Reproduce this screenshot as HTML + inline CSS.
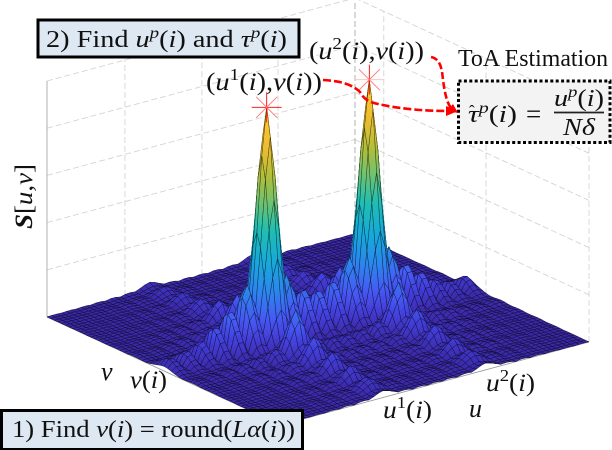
<!DOCTYPE html>
<html lang="en">
<head>
<meta charset="utf-8">
<title>ToA estimation surface</title>
<style>
  html, body { margin: 0; padding: 0; background: #fff; }
  svg { display: block; }
  text { font-family: "Liberation Serif", "DejaVu Serif", serif; fill: #111; }
  .m { font-style: italic; }
</style>
</head>
<body>
<svg id="chart" xmlns="http://www.w3.org/2000/svg" width="612" height="450" viewBox="0 0 612 450">
  <g id="walls" fill="none"></g>
  <g id="surface"></g>
  <g id="stars"></g>

  <text transform="translate(32,229) rotate(-90)" font-size="25" textLength="65" lengthAdjust="spacingAndGlyphs"><tspan font-weight="bold" font-style="italic">S</tspan><tspan>[</tspan><tspan class="m">u</tspan><tspan>,</tspan><tspan class="m">v</tspan><tspan>]</tspan></text>
  <text class="m" x="101" y="380" font-size="26">v</text>
  <text class="m" x="469" y="417" font-size="26">u</text>
  <text x="130" y="388" font-size="25" textLength="37" lengthAdjust="spacingAndGlyphs"><tspan class="m">v</tspan>(<tspan class="m">i</tspan>)</text>
  <text x="383" y="418" font-size="25" textLength="49" lengthAdjust="spacingAndGlyphs"><tspan class="m">u</tspan><tspan font-size="17" dy="-10">1</tspan><tspan dy="10">(</tspan><tspan class="m">i</tspan>)</text>
  <text x="486" y="391" font-size="25" textLength="49" lengthAdjust="spacingAndGlyphs"><tspan class="m">u</tspan><tspan font-size="17" dy="-10">2</tspan><tspan dy="10">(</tspan><tspan class="m">i</tspan>)</text>

  <text x="206" y="90" font-size="25" textLength="116" lengthAdjust="spacingAndGlyphs">(<tspan class="m">u</tspan><tspan font-size="17" dy="-10">1</tspan><tspan dy="10">(</tspan><tspan class="m">i</tspan>),<tspan class="m">v</tspan>(<tspan class="m">i</tspan>))</text>
  <text x="309" y="59" font-size="25" textLength="115" lengthAdjust="spacingAndGlyphs">(<tspan class="m">u</tspan><tspan font-size="17" dy="-10">2</tspan><tspan dy="10">(</tspan><tspan class="m">i</tspan>),<tspan class="m">v</tspan>(<tspan class="m">i</tspan>))</text>

  <g>
    <rect x="38" y="20" width="261" height="37" fill="#dee8f3" stroke="#000" stroke-width="3"></rect>
    <text x="46" y="47" font-size="24" textLength="241" lengthAdjust="spacingAndGlyphs">2) Find <tspan class="m">u</tspan><tspan class="m" font-size="16" dy="-9">p</tspan><tspan dy="9">(</tspan><tspan class="m">i</tspan>) and <tspan class="m">τ</tspan><tspan class="m" font-size="16" dy="-9">p</tspan><tspan dy="9">(</tspan><tspan class="m">i</tspan>)</text>
  </g>

  <g>
    <rect x="1.5" y="410.5" width="301" height="39" fill="#dee8f3" stroke="#000" stroke-width="3"></rect>
    <text x="12" y="437" font-size="24" textLength="283" lengthAdjust="spacingAndGlyphs">1) Find <tspan class="m">v</tspan>(<tspan class="m">i</tspan>) = round(<tspan class="m">Lα</tspan>(<tspan class="m">i</tspan>))</text>
  </g>

  <text x="458" y="66" font-size="24" textLength="150" lengthAdjust="spacingAndGlyphs">ToA Estimation</text>
  <g>
    <rect x="458.5" y="81" width="151.5" height="61.5" fill="#f3f3f3" stroke="#000" stroke-width="3" stroke-dasharray="3 2.4"></rect>
    <text x="468" y="122" font-size="24" textLength="49" lengthAdjust="spacingAndGlyphs"><tspan class="m">τ</tspan><tspan class="m" font-size="16" dy="-9">p</tspan><tspan dy="9">(</tspan><tspan class="m">i</tspan>)</text>
    <text x="469" y="117" font-size="17">ˆ</text>
    <text x="526" y="123" font-size="27">=</text>
    <text x="554" y="106" font-size="24" textLength="50" lengthAdjust="spacingAndGlyphs"><tspan class="m">u</tspan><tspan class="m" font-size="16" dy="-9">p</tspan><tspan dy="9">(</tspan><tspan class="m">i</tspan>)</text>
    <line x1="554" y1="112.5" x2="604" y2="112.5" stroke="#222" stroke-width="1.8"></line>
    <text class="m" x="563" y="135" font-size="24" textLength="32" lengthAdjust="spacingAndGlyphs">Nδ</text>
  </g>

  <g fill="none" stroke="#f00" stroke-width="2.6">
    <path stroke-dasharray="7 3" d="M431,57 C441,59 442,70 443,80 C445,94 447,104 452,109"></path>
    <path stroke-dasharray="8 3" d="M323,80 C340,81 352,84 360,92 C364,99 368,102 378,104 C400,109 425,111 450,111"></path>
    <polygon points="458,113 447,111 453,104" fill="#f00" stroke="none"></polygon>
    <polygon points="458,111 446,106 446,116" fill="#f00" stroke="none"></polygon>
  </g>
</svg>

<script>
// Relative response along the u axis, sample 0..63
const uProfile = [
  .02,.045,.04,.012,.05,.055,.012,.07,.08,.02,.12,.12,.03,.17,.17,.04,.22,.27,.2,.48,.8,
  1,.8,.48,.2,.27,.22,.05,.18,.18,.05,.16,.16,.05,.18,.18,.05,.22,.27,.2,.48,.8,
  1,.8,.48,.2,.27,.22,.04,.17,.17,.03,.12,.12,.02,.08,.07,.012,.055,.05,.012,.05,.055,.025
];
// Relative response along the v axis, sample 0..64
const vProfile = [
  .03,.02,.02,.04,.05,.05,.03,.02,.05,.07,.05,.03,.03,.07,.09,.07,.04,.04,.09,.12,.1,.05,.07,.16,.2,.16,.08,.06,.17,.38,.62,.88,
  1,
  .88,.62,.38,.17,.06,.07,.12,.15,.12,.05,.04,.08,.09,.07,.03,.03,.05,.06,.05,.02,.02,.04,.05,.04,.015,.02,.03,.04,.03,.015,.02,.03
];
// Axis gridline fractions
const zGridLevels = [0, 0.2, 0.4, 0.6, 0.8, 1];
const uGridLevels = [0, 0.253, 0.503, 0.75, 1];
const vGridLevels = [0, 0.44, 0.877, 1];
const peakThreshold = 0.9;

const SVG = 'http://www.w3.org/2000/svg';
const FRONT = { x: 281, y: 425 };
const U_VEC = { x: 308, y: -83 };
const V_VEC = { x: -234, y: -108 };
const Z_PX = 236;

function projectX(u, v) { return FRONT.x + u * U_VEC.x + v * V_VEC.x; }
function projectY(u, v, z) { return FRONT.y + u * U_VEC.y + v * V_VEC.y - z * Z_PX; }
function uAt(i) { return i / (uProfile.length - 1); }
function vAt(j) { return j / (vProfile.length - 1); }
function heightAt(i, j) { return uProfile[i] * vProfile[j]; }

const parula = [
  [0, 58, 40, 165], [0.07, 66, 60, 215], [0.14, 70, 90, 244], [0.25, 45, 135, 238],
  [0.37, 24, 170, 218], [0.5, 32, 190, 180], [0.62, 115, 195, 110], [0.72, 175, 190, 60],
  [0.84, 235, 190, 50], [0.93, 250, 195, 50], [1, 250, 225, 40]
];
function colorFor(t) {
  let k = 0;
  while (k < parula.length - 2 && t > parula[k + 1][0]) k++;
  const a = parula[k], b = parula[k + 1];
  const f = Math.min(1, Math.max(0, (t - a[0]) / (b[0] - a[0])));
  const c = [1, 2, 3].map(n => Math.round(a[n] + (b[n] - a[n]) * f));
  return 'rgb(' + c.join(',') + ')';
}

function drawLine(parent, x1, y1, x2, y2, color, dash, name) {
  const l = document.createElementNS(SVG, 'line');
  
  
  l.setAttribute('x1', x1); l.setAttribute('y1', y1);
  l.setAttribute('x2', x2); l.setAttribute('y2', y2);
  l.setAttribute('stroke', color);
  l.setAttribute('stroke-width', '0.9');
  if (dash) l.setAttribute('stroke-dasharray', dash);
  parent.appendChild(l);
}

// Walls
const walls = document.getElementById('walls');
zGridLevels.forEach(z => {
  if (z === 0) return;
  drawLine(walls, projectX(0, 1), projectY(0, 1, z), projectX(1, 1), projectY(1, 1, z), '#d4d4d4', '6 3', 'left-wall-gridline');
  drawLine(walls, projectX(1, 1), projectY(1, 1, z), projectX(1, 0), projectY(1, 0, z), '#d4d4d4', '6 3', 'right-wall-gridline');
});
uGridLevels.forEach(u => {
  if (u === 0) {
    drawLine(walls, projectX(u, 1), projectY(u, 1, 0), projectX(u, 1), projectY(u, 1, 1), '#a8a8a8', '', 'z-axis-line');
  } else {
    drawLine(walls, projectX(u, 1), projectY(u, 1, 0), projectX(u, 1), projectY(u, 1, 1), u === 1 ? '#ababab' : '#d4d4d4', '6 3', 'left-wall-vertical-gridline');
  }
});
vGridLevels.forEach(v => {
  if (v === 1) return;
  drawLine(walls, projectX(1, v), projectY(1, v, 0), projectX(1, v), projectY(1, v, 1), '#d4d4d4', '6 3', 'right-wall-vertical-gridline');
});
drawLine(walls, projectX(0, 0), projectY(0, 0, 0), projectX(1, 0), projectY(1, 0, 0), '#999', '', 'u-axis-line');
drawLine(walls, projectX(0, 0), projectY(0, 0, 0), projectX(0, 1), projectY(0, 1, 0), '#999', '', 'v-axis-line');

// Bilinear point on a mesh face at local (s, t)
function facePoint(i, j, s, t) {
  const z = (1 - s) * (1 - t) * heightAt(i, j) + s * (1 - t) * heightAt(i + 1, j)
          + s * t * heightAt(i + 1, j + 1) + (1 - s) * t * heightAt(i, j + 1);
  const u = uAt(i) + s * (uAt(i + 1) - uAt(i));
  const v = vAt(j) + t * (vAt(j + 1) - vAt(j));
  return { x: projectX(u, v), y: projectY(u, v, z), z: z };
}
function pointString(p) { return p.x.toFixed(1) + ',' + p.y.toFixed(1); }

// Surface: painter's order, back corner first; interpolated shading through sub-cells
const surface = document.getElementById('surface');
for (let i = uProfile.length - 2; i >= 0; i--) {
  for (let j = vProfile.length - 2; j >= 0; j--) {
    const zs = [heightAt(i, j), heightAt(i + 1, j), heightAt(i + 1, j + 1), heightAt(i, j + 1)];
    const range = Math.max(...zs) - Math.min(...zs);
    const k = Math.max(1, Math.min(10, Math.ceil(range * Z_PX / 7)));
    for (let a = 0; a < k; a++) {
      for (let b = 0; b < k; b++) {
        const quad = [
          facePoint(i, j, a / k, b / k), facePoint(i, j, (a + 1) / k, b / k),
          facePoint(i, j, (a + 1) / k, (b + 1) / k), facePoint(i, j, a / k, (b + 1) / k)
        ];
        const mean = quad.reduce((s, p) => s + p.z, 0) / 4;
        const color = colorFor(mean);
        const cell = document.createElementNS(SVG, 'polygon');
        
        
        cell.setAttribute('points', quad.map(pointString).join(' '));
        cell.setAttribute('fill', color);
        cell.setAttribute('stroke', color);
        cell.setAttribute('stroke-width', '0.35');
        surface.appendChild(cell);
      }
    }
    const outline = [facePoint(i, j, 0, 0), facePoint(i, j, 1, 0), facePoint(i, j, 1, 1), facePoint(i, j, 0, 1)];
    const face = document.createElementNS(SVG, 'polygon');
    
    
    face.setAttribute('points', outline.map(pointString).join(' '));
    face.setAttribute('fill', 'none');
    face.setAttribute('stroke', '#000');
    face.setAttribute('stroke-width', '0.4');
    face.setAttribute('stroke-opacity', '0.85');
    face.setAttribute('stroke-linejoin', 'bevel');
    surface.appendChild(face);
  }
}

// Peak markers
const stars = document.getElementById('stars');
const peakV = vProfile.indexOf(Math.max(...vProfile));
let peakCount = 0;
uProfile.forEach((val, i) => {
  if (val < peakThreshold) return;
  const cx = projectX(uAt(i), vAt(peakV));
  const cy = projectY(uAt(i), vAt(peakV), heightAt(i, peakV));
  const horizontalColor = peakCount === 0 ? '#f00' : '#fbb';
  peakCount++;
  const arms = [[15, 0, horizontalColor], [0, 15, '#f00'], [10.5, 10.5, '#f77'], [10.5, -10.5, '#f77']];
  arms.forEach(a => {
    const s = document.createElementNS(SVG, 'line');
    
    
    s.setAttribute('x1', cx - a[0]); s.setAttribute('y1', cy - a[1]);
    s.setAttribute('x2', cx + a[0]); s.setAttribute('y2', cy + a[1]);
    s.setAttribute('stroke', a[2]);
    s.setAttribute('stroke-width', '0.9');
    stars.appendChild(s);
  });
});
</script>
</body>
</html>
